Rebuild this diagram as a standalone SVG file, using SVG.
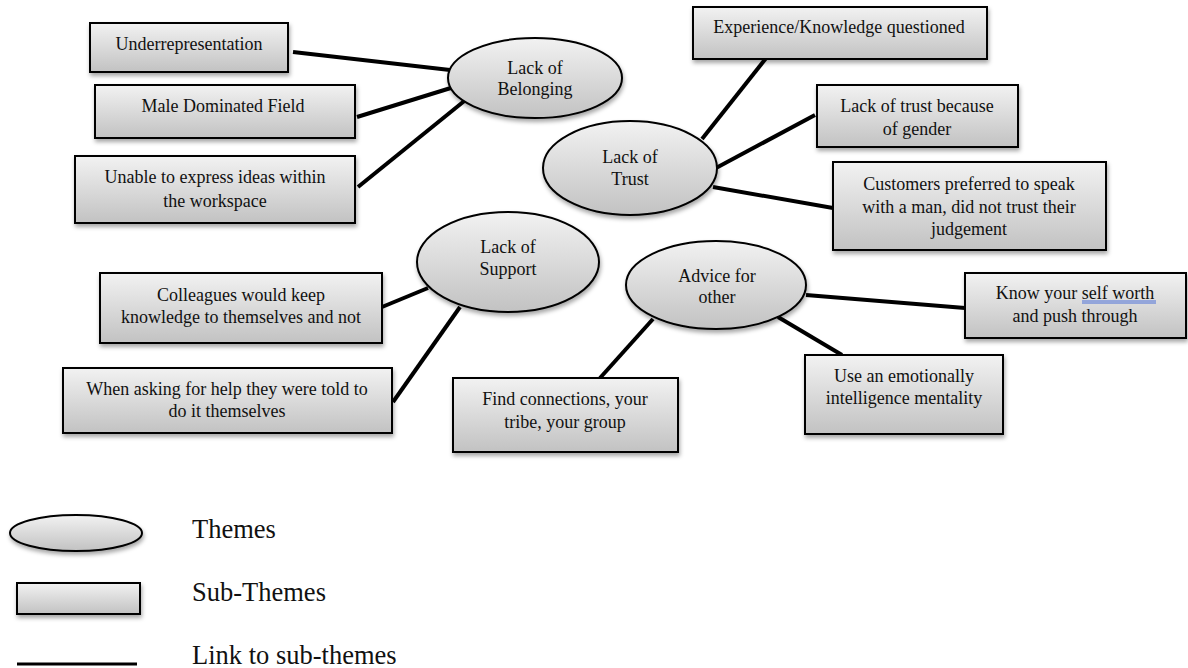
<svg xmlns="http://www.w3.org/2000/svg" width="1188" height="668" viewBox="0 0 1188 668">
<style>
.box{fill:url(#g);stroke:#000;stroke-width:2;filter:url(#sh)}
.el{fill:url(#g);stroke:#000;stroke-width:2;filter:url(#sh)}
text.t{font-family:"Liberation Serif",serif;font-size:18px;fill:#111;text-anchor:middle}
text.lg{font-family:"Liberation Serif",serif;font-size:26.5px;fill:#111}
.c line{stroke:#000;stroke-width:4;stroke-linecap:butt}
</style>
<defs>
<linearGradient id="g" x1="0" y1="0" x2="0" y2="1">
<stop offset="0" stop-color="#f2f2f2"/>
<stop offset="1" stop-color="#c2c2c2"/>
</linearGradient>
<filter id="sh" x="-10%" y="-10%" width="125%" height="140%">
<feDropShadow dx="1" dy="3" stdDeviation="2" flood-color="#000" flood-opacity="0.35"/>
</filter>
</defs>
<rect width="1188" height="668" fill="#fff"/>
<g id="connectors" class="c">
<line x1="293" y1="52" x2="450" y2="70"/>
<line x1="357" y1="117" x2="454" y2="87"/>
<line x1="358" y1="187" x2="468" y2="98"/>
<line x1="767" y1="57" x2="702" y2="139"/>
<line x1="815" y1="115" x2="716" y2="168"/>
<line x1="713" y1="187" x2="833" y2="208"/>
<line x1="382" y1="307" x2="428" y2="288"/>
<line x1="393" y1="402" x2="460" y2="307"/>
<line x1="653" y1="319" x2="600" y2="378"/>
<line x1="806" y1="295" x2="965" y2="308"/>
<line x1="778" y1="317" x2="842" y2="355"/>
</g>
<g font-family="Liberation Serif, serif">
<g id="theme-belonging">
<ellipse class="el" cx="535" cy="78" rx="87" ry="40"/>
<text class="t" x="535" y="74">Lack of</text>
<text class="t" x="535" y="95">Belonging</text>
</g>
<g id="theme-trust">
<ellipse class="el" cx="630" cy="168" rx="87" ry="47"/>
<text class="t" x="630" y="163">Lack of</text>
<text class="t" x="630" y="185">Trust</text>
</g>
<g id="theme-support">
<ellipse class="el" cx="508" cy="262" rx="91" ry="50"/>
<text class="t" x="508" y="253">Lack of</text>
<text class="t" x="508" y="275">Support</text>
</g>
<g id="theme-advice">
<ellipse class="el" cx="716" cy="285" rx="90" ry="44"/>
<text class="t" x="717" y="282">Advice for</text>
<text class="t" x="717" y="303">other</text>
</g>
<g id="sub-underrep">
<rect class="box" x="90" y="23" width="198" height="49"/>
<text class="t" x="189" y="50">Underrepresentation</text>
</g>
<g id="sub-male">
<rect class="box" x="95" y="85" width="260" height="53"/>
<text class="t" x="223" y="112">Male Dominated Field</text>
</g>
<g id="sub-unable">
<rect class="box" x="75" y="156" width="280" height="67"/>
<text class="t" x="215" y="183">Unable to express ideas within</text>
<text class="t" x="215" y="207">the workspace</text>
</g>
<g id="sub-experience">
<rect class="box" x="693" y="7" width="294" height="52"/>
<text class="t" x="839" y="33">Experience/Knowledge questioned</text>
</g>
<g id="sub-gender">
<rect class="box" x="817" y="85" width="201" height="62"/>
<text class="t" x="917" y="112">Lack of trust because</text>
<text class="t" x="917" y="135">of gender</text>
</g>
<g id="sub-customers">
<rect class="box" x="833" y="162" width="273" height="88"/>
<text class="t" x="969" y="190">Customers preferred to speak</text>
<text class="t" x="969" y="213">with a man, did not trust their</text>
<text class="t" x="969" y="235">judgement</text>
</g>
<g id="sub-colleagues">
<rect class="box" x="100" y="273" width="282" height="70"/>
<text class="t" x="241" y="301">Colleagues would keep</text>
<text class="t" x="241" y="323">knowledge to themselves and not</text>
</g>
<g id="sub-help">
<rect class="box" x="63" y="368" width="329" height="65"/>
<text class="t" x="227" y="395">When asking for help they were told to</text>
<text class="t" x="227" y="417">do it themselves</text>
</g>
<g id="sub-connections">
<rect class="box" x="453" y="378" width="225" height="74"/>
<text class="t" x="565" y="405">Find connections, your</text>
<text class="t" x="565" y="428">tribe, your group</text>
</g>
<g id="sub-selfworth">
<rect class="box" x="965" y="273" width="221" height="65"/>
<text class="t" x="1075" y="299">Know your self worth</text>
<text class="t" x="1075" y="322">and push through</text>
<line x1="1082" y1="301" x2="1156" y2="301" stroke="#4a6fd8" stroke-width="1"/>
<line x1="1082" y1="303" x2="1156" y2="303" stroke="#4a6fd8" stroke-width="1"/>
</g>
<g id="sub-emotional">
<rect class="box" x="805" y="355" width="198" height="79"/>
<text class="t" x="904" y="382">Use an emotionally</text>
<text class="t" x="904" y="404">intelligence mentality</text>
</g>
</g>
<g id="legend">
<ellipse class="el" cx="76" cy="533" rx="66" ry="18"/>
<text class="lg" x="192" y="538">Themes</text>
<rect class="box" x="17" y="583" width="123" height="31"/>
<text class="lg" x="192" y="601">Sub-Themes</text>
<line x1="17" y1="664" x2="137" y2="664" stroke="#000" stroke-width="3"/>
<text class="lg" x="192" y="664">Link to sub-themes</text>
</g>
</svg>
